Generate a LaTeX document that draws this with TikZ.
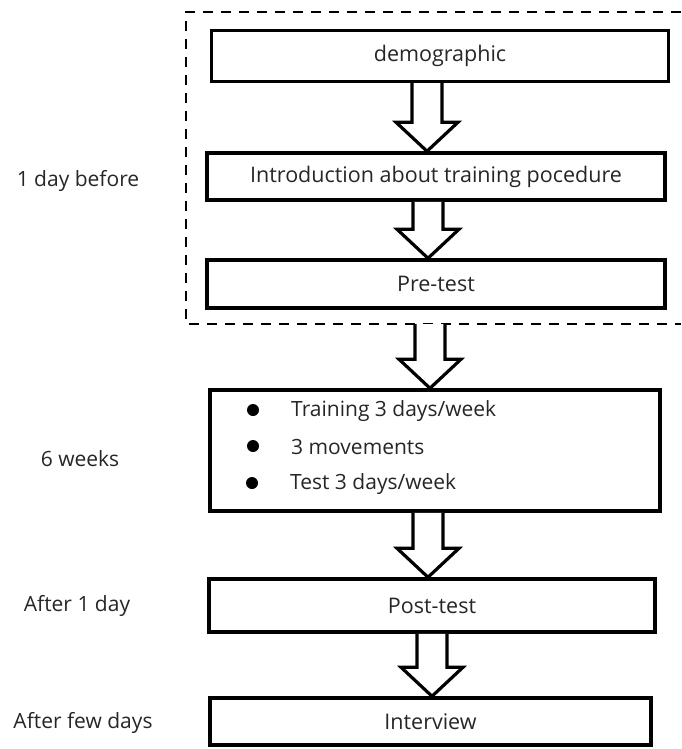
\documentclass[tikz,border=0pt]{standalone}
\usepackage{fontspec}
\setmainfont{Open Sans}
\usetikzlibrary{calc}
\tikzset{
  box/.style={draw=black, line width=3.5pt, rectangle, inner sep=0pt, text=black!85,
    font=\fontsize{21.5}{25}\selectfont},
  lbl/.style={text=black!85, font=\fontsize{21}{25}\selectfont, inner sep=0pt},
  arrowline/.style={draw=black, fill=white, line width=3.2pt, line join=miter},
  framedash/.style={line width=1.4pt, dash pattern=on 10pt off 8pt},
  bulletdot/.style={circle, fill=black, inner sep=0pt, minimum size=12pt},
}
\newcommand\blockarrow[3]{%
  \draw[arrowline] let \p1=#1, \p2=#2 in
    ({#3pt-15pt},\y1) -- ({#3pt-15pt},{\y2+29pt}) -- ({#3pt-31pt},{\y2+29pt})
    -- (#3pt,\y2) -- ({#3pt+31pt},{\y2+29pt}) -- ({#3pt+15pt},{\y2+29pt})
    -- ({#3pt+15pt},\y1);
}
\begin{document}
\begin{tikzpicture}[x=1pt,y=-1pt]
\useasboundingbox (0,0) rectangle (681,749);
% dashed frame
\draw[framedash] (681,12) -- (186,12) -- (186,324) -- (681,324);
\coordinate (framebot) at (430,324);
% boxes
\node[box, minimum width=457pt, minimum height=51pt] (demo) at (440,56) {demographic};
\node[box, minimum width=458pt, minimum height=47pt] (intro) at (436,176.5) {Introduction about training pocedure};
\node[box, minimum width=458pt, minimum height=48pt] (pre) at (436,284) {Pre-test};
\node[box, minimum width=450pt, minimum height=121pt] (train) at (435,450.5) {};
\node[box, minimum width=446pt, minimum height=53pt] (post) at (432,605.5) {Post-test};
\node[box, minimum width=441pt, minimum height=47pt] (inter) at (430.5,721.5) {Interview};
% bullets
\node[bulletdot] (b1) at (253,410) {};
\node[bulletdot] (b2) at (253,446) {};
\node[bulletdot] (b3) at (252,483) {};
\node[lbl, anchor=west] (t1) at (291,411) {Training 3 days/week};
\node[lbl, anchor=west] (t2) at (291,447) {3 movements};
\node[lbl, anchor=west] (t3) at (290,484) {Test 3 days/week};
% left labels
\node[lbl] (l1) at (78,181) {1 day before};
\node[lbl] (l2) at (80,459) {6 weeks};
\node[lbl] (l3) at (77,606) {After 1 day};
\node[lbl] (l4) at (83,723) {After few days};
% arrows
\blockarrow{(demo.south)}{(intro.north)}{427}
\blockarrow{(intro.south)}{(pre.north)}{428}
\blockarrow{(framebot)}{(train.north)}{430}
\blockarrow{(train.south)}{(post.north)}{428}
\blockarrow{(post.south)}{(inter.north)}{432}
\end{tikzpicture}
\end{document}
